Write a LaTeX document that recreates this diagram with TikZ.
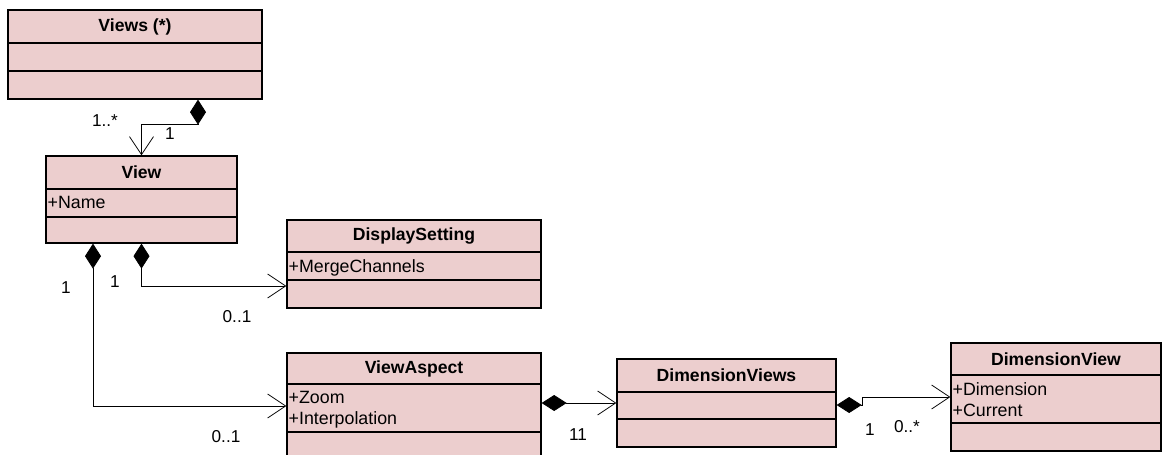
\documentclass[tikz,border=0pt]{standalone}
\usepackage{fontspec}
\setmainfont{Liberation Sans}
\usetikzlibrary{arrows.meta,calc,fit}

\definecolor{classpink}{RGB}{236,206,206}

\tikzset{
  classbox/.style={draw=black, fill=classpink, line width=1.3pt, inner sep=0pt},
  classline/.style={draw=black, line width=1.3pt},
  classname/.style={font=\fontsize{17.6}{20}\selectfont\bfseries, inner sep=0pt},
  classattr/.style={font=\fontsize{17.8}{21}\selectfont, align=left, inner sep=0pt, anchor=north west},
  mult/.style={font=\fontsize{17.2}{20}\selectfont, inner sep=0pt},
  composition/.style={draw=black, line width=0.8pt,
    {Diamond[length=25pt,width=16pt]}-{Straight Barb[length=18pt,width=24pt]}},
}

% class box: name, left, top, right, first rule, second rule, bottom, title, attributes
\newcommand{\umlclass}[9]{%
  \node[classbox, fit={(#2,#3) (#4,#7)}] (#1) {};
  \draw[classline] (#2,#5) -- (#4,#5) (#2,#6) -- (#4,#6);
  \node[classname] (#1-name) at ($(#2,#3)!0.5!(#4,#5)$) {#8};
  \node[classattr] (#1-attr) at ({#2+1.5},{#5+7}) {#9};
}

\begin{document}
\begin{tikzpicture}[x=1pt, y=-1pt]
\useasboundingbox (0,0) rectangle (1162,455);
\clip (0,0) rectangle (1162,455);

% Classes
\umlclass{views}{8}{10}{262}{43}{71}{99}{Views (*)}{}
\umlclass{view}{46}{156}{237}{189}{217}{243}{View}{+Name}
\umlclass{display}{287}{220}{541}{252}{280}{308}{DisplaySetting}{+MergeChannels}
\umlclass{aspect}{287}{353}{541}{384}{432}{459}{ViewAspect}{+Zoom\\+Interpolation}
\umlclass{dimviews}{617}{359}{836}{392}{419}{447}{DimensionViews}{}
\umlclass{dimview}{951}{343}{1161}{375}{423}{451}{DimensionView}{+Dimension\\+Current}

% Compositions
\draw[composition] ([xshift=63pt]views.south) -- ++(0,25) -| (view.north);
\draw[composition] (view.south) |- ([yshift=-22pt]display.west);
\draw[composition] ([xshift=-48.5pt]view.south) |- (aspect.west);
\draw[composition] (aspect.east |- dimviews.west) -- (dimviews.west);
\draw[composition] ([yshift=-2pt]dimviews.east) -- ++(26,0) |- (dimview.west);

% Multiplicities
\node[mult] (views-many) at (105,121) {1..*};
\node[mult] (views-one) at (170,134) {1};
\node[mult] (aspect-one) at (66,288) {1};
\node[mult] (display-one) at (115,282) {1};
\node[mult] (display-opt) at (237,317) {0..1};
\node[mult] (aspect-opt) at (226,437) {0..1};
\node[mult] (dimviews-one) at (578,435) {11};
\node[mult] (dimview-one) at (870,430) {1};
\node[mult] (dimview-many) at (907,427) {0..*};
\end{tikzpicture}
\end{document}
